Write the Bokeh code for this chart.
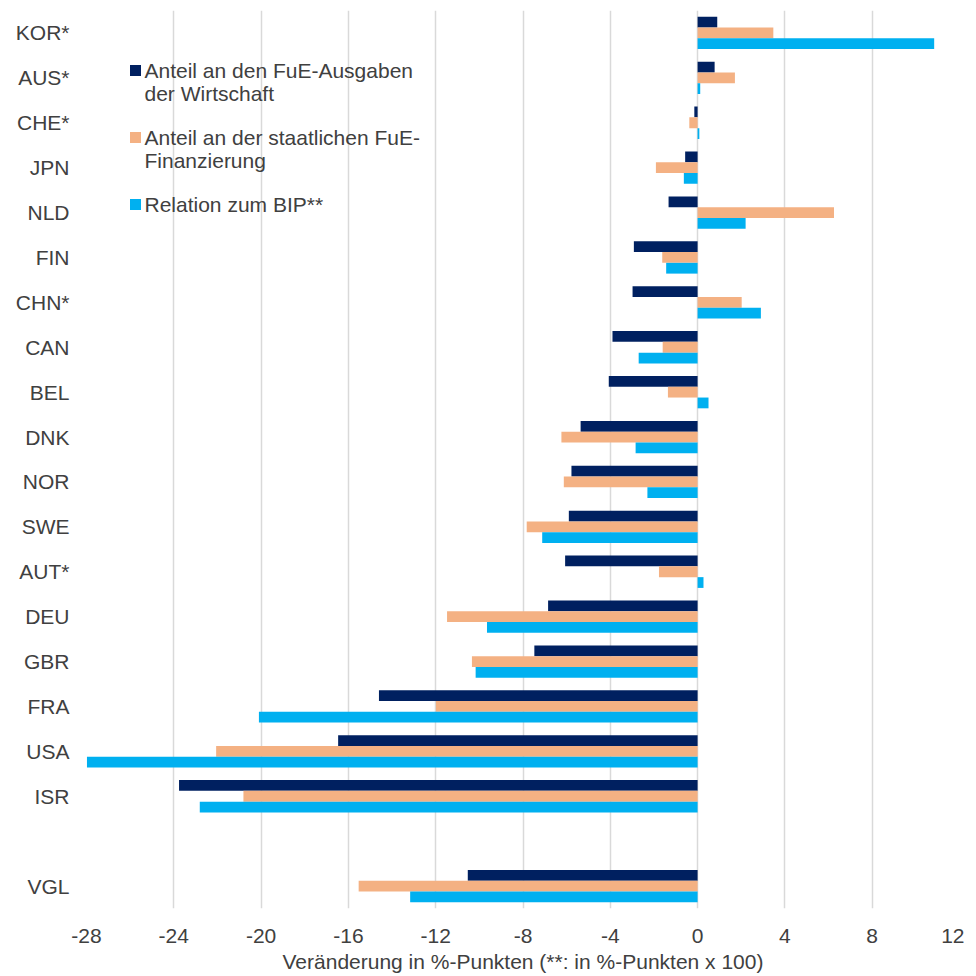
from bokeh.plotting import figure
from bokeh.models import ColumnDataSource, FixedTicker, Label
from bokeh.embed import file_html
from bokeh.resources import INLINE

countries = ["KOR*", "AUS*", "CHE*", "JPN", "NLD", "FIN", "CHN*", "CAN", "BEL",
             "DNK", "NOR", "SWE", "AUT*", "DEU", "GBR", "FRA", "USA", "ISR", "VGL"]
wirtschaft = [0.9, 0.78, -0.15, -0.57, -1.33, -2.92, -2.98, -3.9, -4.07, -5.36,
              -5.78, -5.9, -6.07, -6.85, -7.48, -14.6, -16.47, -23.76, -10.53]
staat = [3.47, 1.71, -0.38, -1.91, 6.25, -1.62, 2.02, -1.6, -1.36, -6.24,
         -6.13, -7.83, -1.77, -11.48, -10.34, -11.99, -22.06, -20.81, -15.53]
bip = [10.84, 0.12, 0.08, -0.63, 2.2, -1.44, 2.9, -2.7, 0.5, -2.84,
       -2.3, -7.12, 0.27, -9.65, -10.17, -20.1, -27.98, -22.81, -13.17]
x_ticks = [-28, -24, -20, -16, -12, -8, -4, 0, 4, 8, 12]
x_tick_labels = ["-28", "-24", "-20", "-16", "-12", "-8", "-4", "0", "4", "8", "12"]
series_names = [["Anteil an den FuE-Ausgaben", "der Wirtschaft"],
                ["Anteil an der staatlichen FuE-", "Finanzierung"],
                ["Relation zum BIP**"]]
x_title = "Veränderung in %-Punkten (**: in %-Punkten x 100)"

colors = ["#002060", "#F4B183", "#00B0F0"]
FONT = "Liberation Sans"
TXT = "#404040"
FS = "21px"

# slots: gap before the last (comparison) group
slots = countries[:-1] + [""] + countries[-1:]
n = len(slots)
ypos = [n - 0.5 - slots.index(c) for c in countries]

FW, FH = 873, 898
p = figure(frame_width=FW, frame_height=FH, x_range=(-28, 12), y_range=(0, n),
           output_backend="svg", toolbar_location=None,
           min_border_left=86, min_border_right=5, min_border_top=10,
           min_border_bottom=48)
p.outline_line_color = None
p.background_fill_color = "white"
p.border_fill_color = "white"

bh = 0.24
offsets = [bh, 0.0, -bh]
for vals, col, off in zip([wirtschaft, staat, bip], colors, offsets):
    src = ColumnDataSource(dict(y=[v + off for v in ypos], right=vals))
    p.hbar(y="y", left=0, right="right", height=bh, source=src,
           fill_color=col, line_color=None)

# axes
p.xaxis.ticker = FixedTicker(ticks=x_ticks)
p.xaxis.major_label_overrides = {t: s for t, s in zip(x_ticks, x_tick_labels)}
p.xaxis.axis_line_color = None
p.xaxis.major_tick_line_color = None
p.xaxis.minor_tick_line_color = None
p.xaxis.major_label_text_font = FONT
p.xaxis.major_label_text_font_size = FS
p.xaxis.major_label_text_color = TXT
p.xaxis.major_label_standoff = 14
p.xaxis.axis_label = x_title
p.xaxis.axis_label_text_font = FONT
p.xaxis.axis_label_text_font_size = FS
p.xaxis.axis_label_text_font_style = "normal"
p.xaxis.axis_label_text_color = TXT
p.xaxis.axis_label_standoff = 4

p.yaxis.ticker = FixedTicker(ticks=ypos)
p.yaxis.major_label_overrides = {y: c for y, c in zip(ypos, countries)}
p.yaxis.axis_line_color = None
p.yaxis.major_tick_line_color = None
p.yaxis.minor_tick_line_color = None
p.yaxis.major_label_text_font = FONT
p.yaxis.major_label_text_font_size = FS
p.yaxis.major_label_text_color = TXT
p.yaxis.major_label_standoff = 11

p.xgrid.grid_line_color = "#D9D9D9"
p.xgrid.grid_line_width = 1.5
p.ygrid.grid_line_color = None

# legend (manual, multi-line labels); positions given in page pixels
FL, FT = 87, 12
def dx(px):
    return -28 + (px - FL) * 40.0 / FW
def dy(py):
    return n - (py - FT) * n / FH

leg_rows = [72, 139, 206]
line_gap = 23
for names, col, row in zip(series_names, colors, leg_rows):
    p.scatter([dx(136)], [dy(row)], marker="square", size=11,
              fill_color=col, line_color=None)
    for k, t in enumerate(names):
        p.add_layout(Label(x=dx(145), y=dy(row + k * line_gap), text=t,
                           text_font=FONT, text_font_size=FS,
                           text_color=TXT, text_baseline="middle"))

open("out.html", "w").write(file_html(p, INLINE))
